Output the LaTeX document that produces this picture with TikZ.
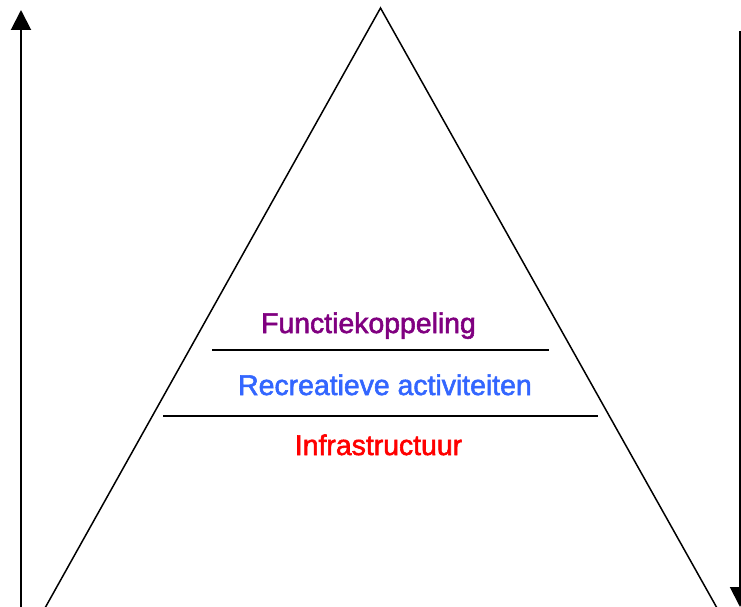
\documentclass[tikz,border=0pt]{standalone}
\usepackage{fontspec}
\setmainfont{Liberation Sans}
\newfontfamily\lblfont[FakeBold=2]{Liberation Sans}
\usetikzlibrary{arrows.meta}
\definecolor{fkpurple}{HTML}{800080}
\definecolor{rablue}{HTML}{3366FF}
\definecolor{infred}{HTML}{FF0000}
\begin{document}
\begin{tikzpicture}[x=1pt,y=-1pt,
  edge/.style={line width=1.5pt,black},
  axis/.style={line width=2pt,black,-{Triangle[width=20pt,length=20pt]}},
  lbl/.style={font=\lblfont\fontsize{28.4}{32}\selectfont,anchor=base,inner sep=0pt}]
\useasboundingbox (0,0) rectangle (741,607);
% pyramid
\coordinate (apex) at (380.5,8);
\coordinate (bl) at (45,608);
\coordinate (br) at (717,608);
\draw[edge,line join=miter] (bl) -- (apex) -- (br);
% layer lines
\coordinate (l1a) at (212,350);
\coordinate (l1b) at (549,350);
\coordinate (l2a) at (163,416);
\coordinate (l2b) at (598,416);
\draw[edge] (l1a) -- (l1b);
\draw[edge] (l2a) -- (l2b);
% labels
\node[lbl,text=fkpurple] (fk) at (368.5,333) {Functiekoppeling};
\node[lbl,text=rablue] (ra) at (385,395) {Recreatieve activiteiten};
\node[lbl,text=infred] (inf) at (378.5,455) {Infrastructuur};
% side arrows
\coordinate (la) at (21,610);
\coordinate (lb) at (21,10);
\draw[axis] (la) -- (lb);
\coordinate (ra1) at (740,31);
\coordinate (ra2) at (740,607);
\draw[axis] (ra1) -- (ra2);
\end{tikzpicture}
\end{document}
